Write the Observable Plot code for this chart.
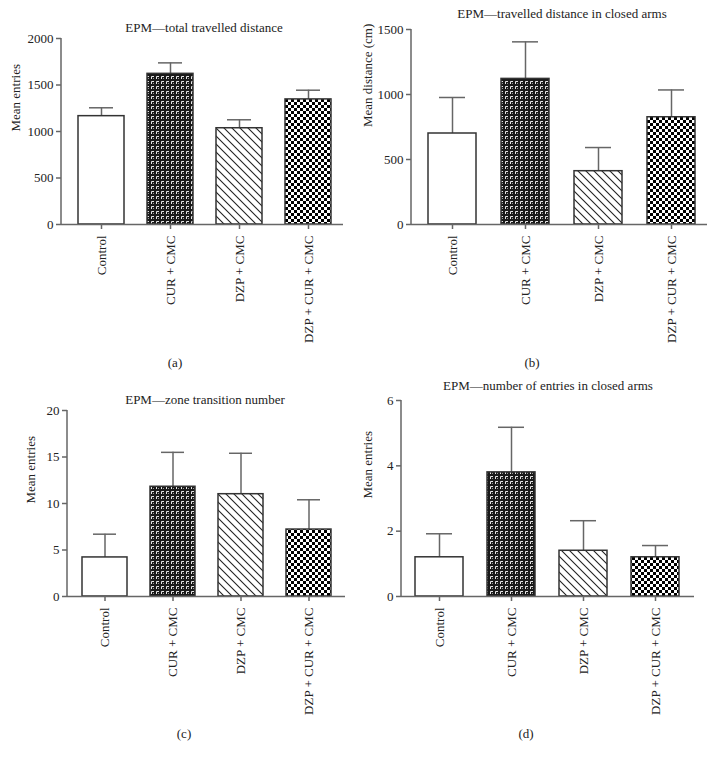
<!DOCTYPE html>
<html><head><meta charset="utf-8">
<script src="https://cdn.jsdelivr.net/npm/d3@7"></script>
<script src="https://cdn.jsdelivr.net/npm/@observablehq/plot@0.6"></script>
<style>
body{margin:0;background:#fff;}
#root{position:relative;width:718px;height:759px;overflow:hidden;font-family:"Liberation Serif","Times New Roman",serif;color:#222;}
.panel{position:absolute;width:359px;height:380px;}
.panel svg{position:absolute;left:0;top:0;overflow:visible;}
.ttl{position:absolute;transform:translate(-50%,-50%);font-size:13px;white-space:nowrap;line-height:1;}
</style></head><body>
<svg width="0" height="0" style="position:absolute">
<defs>
<pattern id="pCur" width="5" height="5" patternUnits="userSpaceOnUse">
 <rect width="5" height="5" fill="#1a1a1a"/>
 <path d="M1.5,4 V1.5 H4" fill="none" stroke="#e6e6e6" stroke-width="1"/>
 <rect x="3" y="3" width="1" height="1" fill="#999"/>
</pattern>
<pattern id="pDiag" width="8" height="8" patternUnits="userSpaceOnUse">
 <rect width="8" height="8" fill="#fff"/>
 <path d="M-1,-1 L9,9 M-1,7 L1,9 M7,-1 L9,1" stroke="#222" stroke-width="1.1"/>
</pattern>
<pattern id="pCheck" width="6" height="6" patternUnits="userSpaceOnUse">
 <rect width="6" height="6" fill="#fff"/>
 <rect width="3" height="3" fill="#000"/>
 <rect x="3" y="3" width="3" height="3" fill="#000"/>
</pattern>
</defs>
</svg>
<div id="root"></div>
<script>
// ---- data ----
const groups = ["Control", "CUR + CMC", "DZP + CMC", "DZP + CUR + CMC"];

const totalDistMean = [1165, 1620, 1035, 1345];
const totalDistErr  = [90, 118, 91, 99];
const totalDistTicks = [0, 500, 1000, 1500, 2000];

const closedDistMean = [700, 1120, 410, 825];
const closedDistErr  = [277, 285, 182, 210];
const closedDistTicks = [0, 500, 1000, 1500];

const transMean = [4.2, 11.8, 11.0, 7.2];
const transErr  = [2.5, 3.7, 4.4, 3.2];
const transTicks = [0, 5, 10, 15, 20];

const closedEntMean = [1.2, 3.8, 1.4, 1.2];
const closedEntErr  = [0.72, 1.38, 0.92, 0.36];
const closedEntTicks = [0, 2, 4, 6];

const titles = ["EPM\u2014total travelled distance", "EPM\u2014travelled distance in closed arms",
                "EPM\u2014zone transition number", "EPM\u2014number of entries in closed arms"];
const yLabels = ["Mean entries", "Mean distance (cm)", "Mean entries", "Mean entries"];
const panelLetters = ["(a)", "(b)", "(c)", "(d)"];

// ---- layout ----
const fills = ["#ffffff", "url(#pCur)", "url(#pDiag)", "url(#pCheck)"];
const panels = [
  {mean: totalDistMean, err: totalDistErr, ticks: totalDistTicks, left: 0, top: 0,
   mL: 61, mR: 16, mT: 38, zero: 224, align: 0.58, yLabX: 15, title: [204, 27], letter: [175, 362]},
  {mean: closedDistMean, err: closedDistErr, ticks: closedDistTicks, left: 359, top: 0,
   mL: 52, mR: 11, mT: 29, zero: 224, align: 0.6, yLabX: 8, title: [562, 13], letter: [532, 362]},
  {mean: transMean, err: transErr, ticks: transTicks, left: 0, top: 380,
   mL: 67, mR: 14, mT: 30, zero: 216, align: 0.53, yLabX: 30, title: [205, 399], letter: [184, 733]},
  {mean: closedEntMean, err: closedEntErr, ticks: closedEntTicks, left: 359, top: 380,
   mL: 42, mR: 24, mT: 20, zero: 216, align: 0.49, yLabX: 8, title: [548, 385], letter: [526, 733]}
];

const svgNS = "http://www.w3.org/2000/svg";
function yAxisLine(index, scales, values, dims) {
  const l = document.createElementNS(svgNS, "line");
  l.setAttribute("x1", dims.marginLeft);
  l.setAttribute("x2", dims.marginLeft);
  l.setAttribute("y1", dims.marginTop);
  l.setAttribute("y2", dims.height - dims.marginBottom);
  l.setAttribute("stroke", "#666");
  l.setAttribute("stroke-width", 1.5);
  return l;
}

const root = document.getElementById("root");
panels.forEach((p, i) => {
  const data = groups.map((g, j) => ({group: g, mean: p.mean[j], err: p.err[j]}));
  const H = 380;
  const chart = Plot.plot({
    width: 359, height: H,
    marginLeft: p.mL, marginRight: p.mR, marginTop: p.mT, marginBottom: H - p.zero,
    style: {fontFamily: '"Liberation Serif","Times New Roman",serif', fontSize: "13px", color: "#222", background: "transparent"},
    x: {domain: groups, paddingInner: 0.34, paddingOuter: 0.19, align: p.align, label: null},
    y: {domain: [0, p.ticks[p.ticks.length - 1]], label: null},
    color: {type: "ordinal", domain: groups, range: fills},
    marks: [
      Plot.ruleX(data, {x: "group", y1: "mean", y2: d => d.mean + d.err, stroke: "#666", strokeWidth: 1.5}),
      Plot.tickY(data, {x: "group", y: d => d.mean + d.err, stroke: "#666", strokeWidth: 1.5, insetLeft: 11, insetRight: 11}),
      Plot.barY(data, {x: "group", y: "mean", fill: "group", stroke: "#333", strokeWidth: 1.5}),
      Plot.ruleY([0], {stroke: "#666", strokeWidth: 1.5}),
      yAxisLine,
      Plot.axisY({ticks: p.ticks, tickFormat: d => String(d), tickSize: 5, tickPadding: 3, stroke: "#666", strokeWidth: 1.5, label: null, fill: "#222", fontSize: 13}),
      Plot.axisX({tickRotate: -90, tickSize: 5, tickPadding: 6, stroke: "#666", strokeWidth: 1.5, label: null, fill: "#222", fontSize: 13}),
      Plot.text([yLabels[i]], {frameAnchor: "left", dx: p.yLabX - p.mL, rotate: -90, fontSize: 13, fill: "#222"})
    ]
  });
  const div = document.createElement("div");
  div.className = "panel";
  div.style.left = p.left + "px";
  div.style.top = p.top + "px";
  div.appendChild(chart);
  root.appendChild(div);

  const t = document.createElement("div");
  t.className = "ttl";
  t.style.left = p.title[0] + "px";
  t.style.top = p.title[1] + "px";
  t.textContent = titles[i];
  root.appendChild(t);

  const l = document.createElement("div");
  l.className = "ttl";
  l.style.left = p.letter[0] + "px";
  l.style.top = p.letter[1] + "px";
  l.textContent = panelLetters[i];
  root.appendChild(l);
});
</script>
</body></html>
